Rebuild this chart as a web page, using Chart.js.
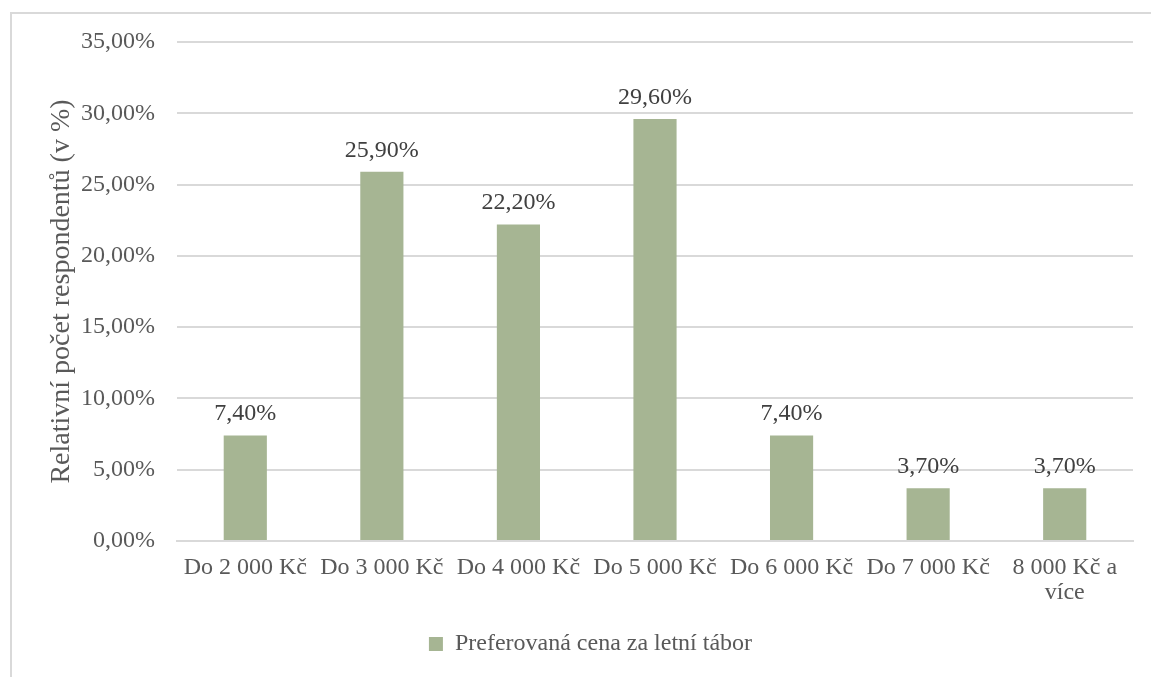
<!DOCTYPE html>
<html>
<head>
<meta charset="utf-8">
<script src="https://cdn.jsdelivr.net/npm/chart.js@4/dist/chart.umd.min.js"></script>
<style>
  html, body { margin: 0; padding: 0; background: #fff; }
  #wrap { position: relative; width: 1151px; height: 677px; overflow: hidden; }
  #frame { position: absolute; left: 10px; top: 12px; width: 1200px; height: 700px;
           border-left: 2px solid #d9d9d9; border-top: 2px solid #d9d9d9; box-sizing: border-box; }
  canvas { position: absolute; left: 0; top: 0; }
</style>
</head>
<body>
<div id="wrap">
  <div id="frame"></div>
  <canvas id="c" width="1151" height="677"></canvas>
</div>
<script>
const categories = ['Do 2 000 Kč', 'Do 3 000 Kč', 'Do 4 000 Kč', 'Do 5 000 Kč', 'Do 6 000 Kč', 'Do 7 000 Kč', ['8 000 Kč a', 'více']];
const values = [7.4, 25.9, 22.2, 29.6, 7.4, 3.7, 3.7];
const seriesName = 'Preferovaná cena za letní tábor';
const yTitle = 'Relativní počet respondentů (v %)';
const yMin = 0, yMax = 35, yStep = 5;

const fmt = v => v.toFixed(2).replace('.', ',') + '%';
const FONT = "'Liberation Serif', 'Times New Roman', serif";
const BAR = '#a6b593';

const labelPlugin = {
  id: 'barLabels',
  afterDatasetsDraw(chart) {
    const ctx = chart.ctx;
    const meta = chart.getDatasetMeta(0);
    ctx.save();
    ctx.font = '24px ' + FONT;
    ctx.fillStyle = '#404040';
    ctx.textAlign = 'center';
    ctx.textBaseline = 'alphabetic';
    meta.data.forEach((bar, i) => {
      ctx.fillText(fmt(values[i]), bar.x, bar.y - 15);
    });
    ctx.restore();
  }
};

new Chart(document.getElementById('c'), {
  type: 'bar',
  data: {
    labels: categories,
    datasets: [{
      label: seriesName,
      data: values,
      backgroundColor: BAR,
      borderWidth: 0,
      categoryPercentage: 1,
      barPercentage: 0.316
    }]
  },
  options: {
    responsive: false,
    animation: false,
    devicePixelRatio: 1,
    layout: { padding: { left: 48, right: 18, top: 42, bottom: 11 } },
    plugins: {
      legend: {
        position: 'bottom',
        labels: {
          font: { family: FONT, size: 24 },
          color: '#595959',
          boxWidth: 14,
          boxHeight: 14,
          padding: 6
        }
      },
      tooltip: { enabled: false }
    },
    scales: {
      x: {
        grid: { display: false, drawTicks: false },
        border: { display: true, color: '#d9d9d9', width: 2 },
        ticks: {
          font: { family: FONT, size: 24, lineHeight: 1.05 },
          color: '#595959',
          padding: 14,
          maxRotation: 0,
          autoSkip: false
        },
        afterFit(scale) { scale.height = 85; }
      },
      y: {
        min: yMin, max: yMax,
        grid: { color: '#d9d9d9', lineWidth: 2, drawTicks: false },
        border: { display: false },
        ticks: {
          stepSize: yStep,
          font: { family: FONT, size: 24 },
          color: '#595959',
          padding: 22,
          callback: v => fmt(v)
        },
        title: {
          display: true,
          text: yTitle,
          font: { family: FONT, size: 28 },
          color: '#595959',
          padding: { top: -3, bottom: 0 }
        },
        afterFit(scale) { scale.width = 129; }
      }
    }
  },
  plugins: [labelPlugin]
});
</script>
</body>
</html>
